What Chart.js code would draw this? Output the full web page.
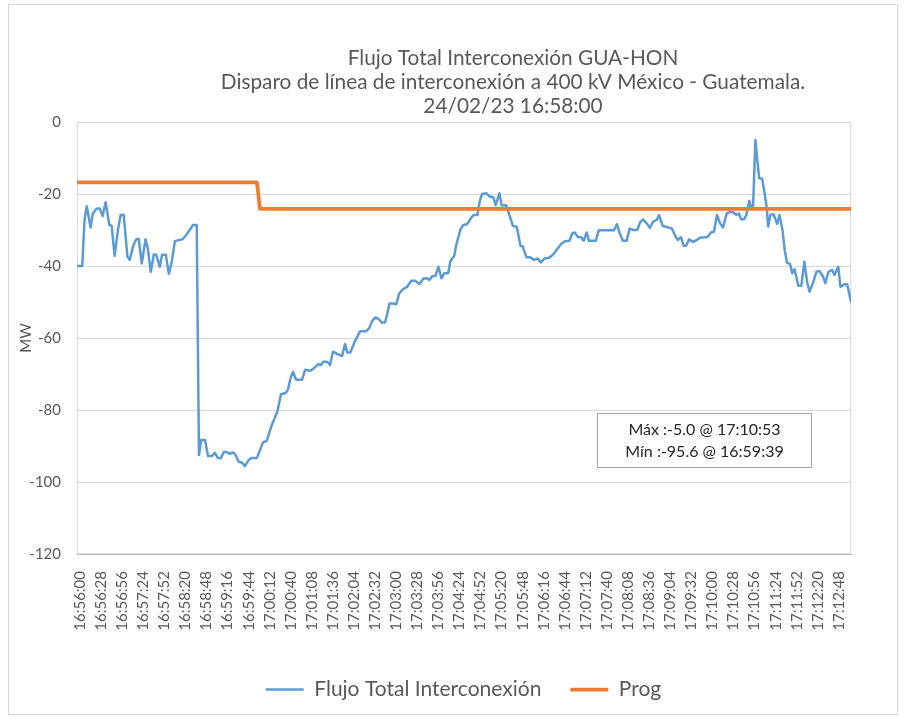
<!DOCTYPE html>
<html>
<head>
<meta charset="utf-8">
<script src="https://cdn.jsdelivr.net/npm/chart.js@4.4.1/dist/chart.umd.min.js"></script>
<style>
html,body{margin:0;padding:0;background:#ffffff;}
canvas{display:block;}
</style>
</head>
<body>
<canvas id="chart" width="904" height="719"></canvas>
<script>
// ---------- DATA ----------
const titleLines = [
  'Flujo Total Interconexión GUA-HON',
  'Disparo de línea de interconexión a 400 kV México - Guatemala.',
  '24/02/23 16:58:00'
];
const seriesNames = ['Flujo Total Interconexión', 'Prog'];
const yAxisTitle = 'MW';
const tickStepSeconds = 28;   // seconds between time labels
const tickLabels = [
  '16:56:00','16:56:28','16:56:56','16:57:24','16:57:52','16:58:20','16:58:48','16:59:16',
  '16:59:44','17:00:12','17:00:40','17:01:08','17:01:36','17:02:04','17:02:32','17:03:00',
  '17:03:28','17:03:56','17:04:24','17:04:52','17:05:20','17:05:48','17:06:16','17:06:44',
  '17:07:12','17:07:40','17:08:08','17:08:36','17:09:04','17:09:32','17:10:00','17:10:28',
  '17:10:56','17:11:24','17:11:52','17:12:20','17:12:48'
];
const yTickValues = [0, -20, -40, -60, -80, -100, -120];
// [seconds after 16:56:00, MW]
const flujoData = [
  [-4,-40.0],[3,-40.0],[6,-27.2],[9,-23.4],[14,-29.3],[17,-25.4],[22,-24.0],[26,-24.0],
  [30,-26.1],[34,-22.3],[39,-28.6],[42,-28.8],[46,-37.2],[50,-30.5],[54,-25.8],[58,-25.8],
  [63,-37.4],[66,-38.3],[71,-34.2],[75,-32.5],[78,-32.5],[82,-39.3],[87,-32.6],[90,-35.1],
  [94,-41.6],[98,-36.8],[101,-36.8],[106,-40.2],[109,-36.9],[114,-36.9],[118,-42.2],[122,-38.6],
  [126,-33.1],[131,-32.8],[136,-32.6],[141,-31.4],[147,-29.6],[150,-28.6],[155,-28.6],
  [158,-92.5],[161,-88.3],[166,-88.3],[170,-92.8],[175,-92.8],[179,-91.9],[183,-93.3],[187,-93.4],
  [191,-91.7],[195,-91.7],[199,-92.2],[203,-91.8],[206,-92.3],[211,-94.4],[215,-94.6],[219,-95.6],
  [224,-93.9],[228,-93.3],[235,-93.3],[243,-89.0],[248,-88.6],[254,-84.6],[262,-80.5],[267,-75.6],
  [273,-75.3],[276,-74.4],[280,-70.9],[283,-69.4],[287,-71.6],[295,-71.6],[299,-68.8],[306,-69.1],
  [312,-68.2],[316,-67.3],[320,-67.5],[323,-66.6],[328,-66.6],[332,-67.5],[336,-63.8],[342,-64.5],
  [348,-65.0],[352,-61.7],[355,-64.0],[359,-64.0],[365,-61.0],[372,-58.1],[380,-58.1],[384,-57.3],
  [388,-55.3],[392,-54.3],[396,-54.6],[401,-55.7],[405,-55.7],[408,-53.4],[411,-50.4],[416,-50.4],
  [420,-50.6],[424,-47.6],[429,-46.4],[434,-45.9],[440,-44.1],[445,-44.1],[451,-45.0],[456,-43.5],
  [461,-43.4],[464,-43.9],[468,-42.8],[472,-42.8],[476,-40.2],[480,-43.4],[484,-42.0],[489,-42.0],
  [492,-38.6],[497,-37.2],[500,-33.9],[505,-30.0],[509,-28.6],[514,-28.4],[520,-26.5],[523,-25.8],
  [528,-25.8],[531,-21.9],[534,-20.0],[540,-19.8],[544,-20.7],[549,-20.9],[552,-23.1],[557,-19.8],
  [560,-23.1],[566,-23.1],[571,-26.3],[575,-28.9],[580,-29.1],[585,-34.4],[588,-34.6],[593,-37.6],
  [598,-37.6],[603,-38.3],[608,-37.9],[612,-39.0],[617,-37.9],[623,-37.7],[628,-36.9],[634,-35.3],
  [639,-33.9],[644,-33.1],[650,-33.0],[654,-30.9],[657,-30.7],[661,-31.9],[666,-32.1],[669,-33.0],
  [673,-30.7],[676,-33.0],[685,-33.0],[689,-30.1],[709,-30.1],[713,-28.4],[717,-31.0],[721,-33.0],
  [726,-33.0],[730,-29.6],[735,-30.0],[740,-30.0],[744,-27.8],[748,-27.1],[752,-28.0],[757,-29.4],
  [761,-27.7],[766,-27.2],[769,-25.9],[774,-28.9],[778,-29.1],[783,-29.4],[786,-29.6],[791,-31.8],
  [794,-32.8],[798,-32.0],[802,-34.4],[805,-34.4],[809,-32.6],[814,-33.3],[819,-32.8],[824,-32.1],
  [831,-32.0],[834,-31.8],[838,-30.7],[842,-30.5],[846,-25.8],[850,-28.1],[854,-29.3],[859,-25.4],
  [864,-24.9],[868,-25.2],[872,-25.8],[875,-25.4],[878,-27.0],[882,-27.0],[885,-25.8],[889,-21.9],
  [891,-23.5],[894,-23.3],[897,-5.0],[902,-15.6],[906,-15.8],[909,-19.4],[912,-23.6],[914,-29.0],
  [917,-25.8],[921,-25.6],[926,-28.3],[929,-25.8],[933,-30.0],[936,-35.6],[939,-39.1],[943,-39.4],
  [946,-42.0],[949,-40.9],[954,-45.5],[958,-45.5],[962,-38.8],[966,-44.8],[969,-47.1],[974,-44.4],
  [978,-41.6],[982,-41.4],[987,-43.0],[990,-44.8],[994,-41.6],[999,-41.1],[1002,-42.5],[1007,-40.2],
  [1010,-45.8],[1015,-45.1],[1019,-45.1],[1024,-49.9]
];
const progData = [[-4,-16.8],[235,-16.8],[239,-24.1],[1024,-24.1]];
const annotationLines = ['Máx :-5.0 @ 17:10:53', 'Mín :-95.6 @ 16:59:39'];

// ---------- STYLE ----------
const FONT = 'Lato';
const GREY_TEXT = '#595959';

const framePlugin = {
  id: 'frame',
  beforeDraw(chart) {
    const ctx = chart.ctx;
    ctx.save();
    ctx.fillStyle = '#ffffff';
    ctx.fillRect(0, 0, chart.width, chart.height);
    ctx.restore();
  },
  beforeDatasetsDraw(chart) {
    const {ctx, chartArea: a} = chart;
    ctx.save();
    ctx.strokeStyle = '#d9d9d9';
    ctx.lineWidth = 1;
    ctx.strokeRect(Math.round(a.left) + 0.5, Math.round(a.top) + 0.5,
      Math.round(a.right - a.left) - 1, Math.round(a.bottom - a.top) - 1);
    ctx.restore();
  },
  afterDraw(chart) {
    const {ctx, chartArea: a} = chart;
    ctx.save();
    // outer chart border
    ctx.strokeStyle = '#d9d9d9';
    ctx.lineWidth = 1;
    ctx.strokeRect(8.5, 4.5, 889, 710);
    // annotation text box
    const bx = a.left + 520.5, by = a.top + 291.5, bw = 214, bh = 54;
    ctx.fillStyle = '#ffffff';
    ctx.fillRect(bx, by, bw, bh);
    ctx.strokeStyle = '#a6a6a6';
    ctx.strokeRect(bx, by, bw, bh);
    ctx.fillStyle = '#262626';
    ctx.font = '16px ' + FONT;
    ctx.textAlign = 'center';
    ctx.textBaseline = 'alphabetic';
    annotationLines.forEach((t, i) => ctx.fillText(t, bx + bw / 2, by + 21 + i * 22.4));
    ctx.restore();
  }
};

const shiftPlugin = {
  id: 'shiftBlocks',
  afterLayout(chart) {
    const t = chart.titleBlock;
    if (t) { const dx = 513 - (t.left + t.right) / 2; t.left += dx; t.right += dx; }
    const l = chart.legend;
    if (l) { const dx = 463.5 - (l.left + l.right) / 2; l.left += dx; l.right += dx; }
  }
};

function build() {
  const ctx = document.getElementById('chart').getContext('2d');
  new Chart(ctx, {
    type: 'line',
    data: {
      datasets: [
        {
          label: seriesNames[0],
          data: flujoData.map(p => ({x: p[0], y: p[1]})),
          borderColor: '#5b9bd5',
          backgroundColor: '#5b9bd5',
          borderWidth: 2.5,
          pointRadius: 0,
          tension: 0,
          borderJoinStyle: 'round',
          borderCapStyle: 'round',
          order: 1
        },
        {
          label: seriesNames[1],
          data: progData.map(p => ({x: p[0], y: p[1]})),
          borderColor: '#ed7d31',
          backgroundColor: '#ed7d31',
          borderWidth: 3.75,
          pointRadius: 0,
          tension: 0,
          borderJoinStyle: 'round',
          order: 0
        }
      ]
    },
    options: {
      responsive: false,
      animation: false,
      devicePixelRatio: 1,
      layout: { padding: { left: 8, right: 53, top: 0, bottom: 9 } },
      plugins: {
        title: {
          display: true,
          text: titleLines,
          color: GREY_TEXT,
          font: { family: FONT, size: 20.8, weight: 'normal', lineHeight: '24px' },
          padding: { top: 46, bottom: 4 }
        },
        legend: {
          display: true,
          position: 'bottom',
          labels: {
            usePointStyle: true,
            pointStyle: 'line',
            pointStyleWidth: 38,
            padding: 29,
            color: GREY_TEXT,
            font: { family: FONT, size: 21 },
            sort: (a, b) => a.datasetIndex - b.datasetIndex
          }
        },
        tooltip: { enabled: false }
      },
      scales: {
        x: {
          type: 'linear',
          min: -4,
          max: 1024,
          afterBuildTicks: (scale) => {
            scale.ticks = tickLabels.map((_, i) => ({ value: i * tickStepSeconds }));
          },
          afterFit: (scale) => { scale.height = 96; },
          ticks: {
            autoSkip: false,
            minRotation: 90,
            maxRotation: 90,
            padding: 9,
            color: GREY_TEXT,
            font: { family: FONT, size: 15 },
            callback: (v) => tickLabels[Math.round(v / tickStepSeconds)]
          },
          grid: { display: false },
          border: { display: true, color: '#bfbfbf', width: 1 }
        },
        y: {
          min: -120,
          max: 0,
          afterBuildTicks: (scale) => {
            scale.ticks = yTickValues.map(v => ({ value: v }));
          },
          afterFit: (scale) => { scale.width = 69; },
          ticks: {
            padding: 16,
            color: GREY_TEXT,
            font: { family: FONT, size: 15 }
          },
          grid: { color: '#d9d9d9', lineWidth: 1, drawTicks: false },
          border: { display: false },
          title: {
            display: true,
            text: yAxisTitle,
            color: GREY_TEXT,
            font: { family: FONT, size: 15 },
            padding: { top: 9, bottom: 0 }
          }
        }
      }
    },
    plugins: [framePlugin, shiftPlugin]
  });
}

if (document.fonts && document.fonts.load) {
  Promise.all([document.fonts.load('20px Lato'), document.fonts.load('15px Lato')])
    .then(build, build);
} else {
  build();
}
</script>
</body>
</html>
